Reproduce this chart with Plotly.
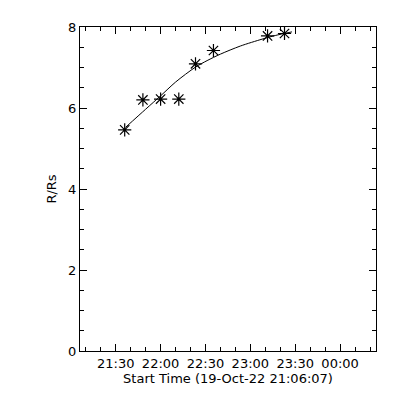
import plotly.graph_objects as go

# Observed points
obs_time = ["2022-10-19 21:36:00", "2022-10-19 21:48:10", "2022-10-19 22:00:00",
            "2022-10-19 22:12:10", "2022-10-19 22:23:20", "2022-10-19 22:35:20",
            "2022-10-19 23:11:30", "2022-10-19 23:22:50"]
obs_r = [5.46, 6.20, 6.22, 6.22, 7.09, 7.42, 7.78, 7.84]

# Fitted curve
fit_time = ["2022-10-19 21:36:30", "2022-10-19 21:50:00", "2022-10-19 22:00:00",
            "2022-10-19 22:10:00", "2022-10-19 22:23:20", "2022-10-19 22:31:05",
            "2022-10-19 22:40:00", "2022-10-19 22:53:20", "2022-10-19 23:07:50",
            "2022-10-19 23:16:40", "2022-10-19 23:27:50"]
fit_r = [5.52, 5.97, 6.30, 6.64, 7.01, 7.17, 7.33, 7.53, 7.70, 7.79, 7.88]

x_range = ["2022-10-19 21:06:07", "2022-10-20 00:24:00"]
y_range = [0, 8]
x_title = "Start Time (19-Oct-22 21:06:07)"
y_title = "R/Rs"

font = dict(family="DejaVu Sans", size=13, color="black")

fig = go.Figure()
fig.add_trace(go.Scatter(x=fit_time, y=fit_r, mode="lines",
                         line=dict(color="black", width=1, shape="spline", smoothing=0.8),
                         showlegend=False, hoverinfo="skip"))
fig.add_trace(go.Scatter(x=obs_time, y=obs_r, mode="markers",
                         marker=dict(symbol="asterisk-open", size=11,
                                     line=dict(color="black", width=1.2), color="black"),
                         showlegend=False))

fig.update_layout(
    width=392, height=392,
    margin=dict(l=72, r=24, t=16, b=49, pad=0),
    paper_bgcolor="white", plot_bgcolor="white",
    font=font,
    xaxis=dict(
        type="date", range=x_range, showgrid=False, zeroline=False,
        showline=True, linecolor="black", linewidth=1, mirror="ticks",
        ticks="inside", ticklen=7, tickcolor="black", tickwidth=1,
        tick0="2022-10-19 21:30:00", dtick=1800000, tickformat="%H:%M",
        minor=dict(dtick=600000, tick0="2022-10-19 21:30:00", ticks="inside",
                   ticklen=4, tickcolor="black", tickwidth=1, showgrid=False),
        title=dict(text=x_title, font=font, standoff=4),
        tickfont=font,
    ),
    yaxis=dict(
        range=y_range, showgrid=False, zeroline=False,
        showline=True, linecolor="black", linewidth=1, mirror="ticks",
        ticks="inside", ticklen=7, tickcolor="black", tickwidth=1,
        tick0=0, dtick=2,
        minor=dict(dtick=0.5, ticks="inside", ticklen=4, tickcolor="black",
                   tickwidth=1, showgrid=False),
        title=dict(text=y_title, font=font, standoff=8),
        tickfont=font,
    ),
)

fig.write_html("out.html")
